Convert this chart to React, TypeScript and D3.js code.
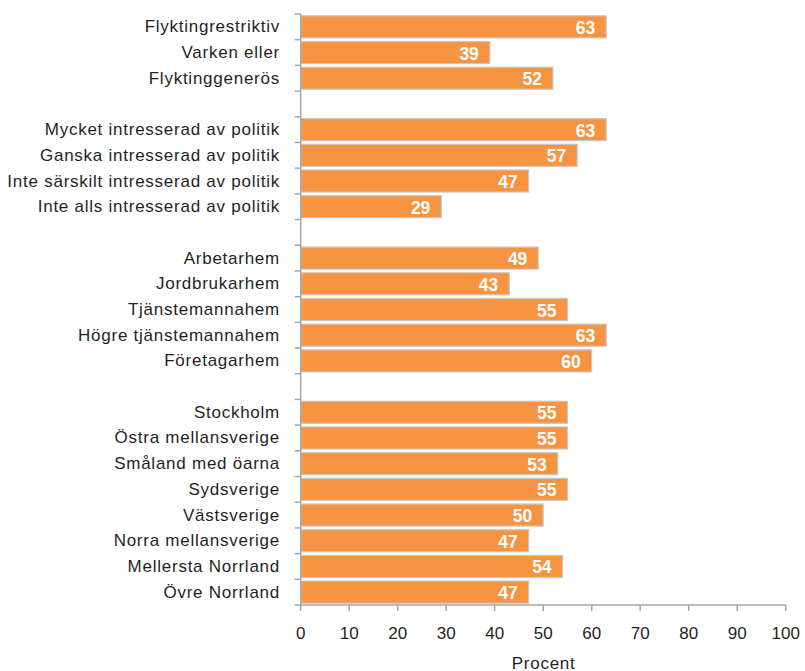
import React from "react";
import * as d3 from "d3";

const group1 = ["Flyktingrestriktiv", "Varken eller", "Flyktinggenerös"];
const values1 = [63, 39, 52];
const group2 = [
  "Mycket intresserad av politik",
  "Ganska intresserad av politik",
  "Inte särskilt intresserad av politik",
  "Inte alls intresserad av politik",
];
const values2 = [63, 57, 47, 29];
const group3 = ["Arbetarhem", "Jordbrukarhem", "Tjänstemannahem", "Högre tjänstemannahem", "Företagarhem"];
const values3 = [49, 43, 55, 63, 60];
const group4 = [
  "Stockholm",
  "Östra mellansverige",
  "Småland med öarna",
  "Sydsverige",
  "Västsverige",
  "Norra mellansverige",
  "Mellersta Norrland",
  "Övre Norrland",
];
const values4 = [55, 55, 53, 55, 50, 47, 54, 47];
const xTicks = [0, 10, 20, 30, 40, 50, 60, 70, 80, 90, 100];
const xTitle = "Procent";

type Row = { key: string; label: string | null; value: number | null };

function buildRows(): Row[] {
  const groups: [string[], number[]][] = [
    [group1, values1],
    [group2, values2],
    [group3, values3],
    [group4, values4],
  ];
  const rows: Row[] = [];
  groups.forEach(([labels, vals], gi) => {
    if (gi > 0) rows.push({ key: "gap" + gi, label: null, value: null });
    labels.forEach((l, i) => rows.push({ key: l, label: l, value: vals[i] }));
  });
  return rows;
}

const W = 805;
const H = 671;
const left = 300.7;
const right = 785.7;
const top = 14;
const bottom = 605;

export default function App() {
  const rows = buildRows();
  const x = d3.scaleLinear().domain([0, 100]).range([left, right]);
  const y = d3
    .scaleBand<string>()
    .domain(rows.map((r) => r.key))
    .range([top, bottom])
    .paddingInner(0.14)
    .paddingOuter(0.07);
  const step = y.step();
  const boundaries = d3.range(rows.length + 1).map((i) => top + i * step);
  const axisColor = "#a6a6a6";
  const font = "Liberation Sans, Arial, sans-serif";
  const textColor = "#1f1f1f";

  return (
    <svg
      width={W}
      height={H}
      style={{ position: "absolute", left: 0, top: 0, background: "#fff" }}
      fontFamily={font}
    >
      {rows.map((r) =>
        r.label === null ? null : (
          <g key={r.key}>
            <rect
              x={x(0)}
              y={y(r.key)!}
              width={x(r.value!) - x(0)}
              height={y.bandwidth()}
              fill="#F79441"
              stroke="#c6c9cc"
              strokeWidth={1.2}
            />
            <text
              x={x(r.value!) - 11}
              y={y(r.key)! + y.bandwidth() / 2 + 1}
              textAnchor="end"
              dominantBaseline="central"
              fill="#fff"
              fontWeight="bold"
              fontSize={17.5}
            >
              {r.value}
            </text>
            <text
              x={280}
              y={y(r.key)! + y.bandwidth() / 2}
              textAnchor="end"
              dominantBaseline="central"
              fill={textColor}
              fontSize={17}
              letterSpacing={0.75}
            >
              {r.label}
            </text>
          </g>
        )
      )}
      <line x1={left} x2={left} y1={top} y2={bottom} stroke={axisColor} strokeWidth={1.5} />
      {boundaries.map((b, i) => (
        <line key={"yt" + i} x1={left - 6} x2={left} y1={b} y2={b} stroke={axisColor} strokeWidth={1.5} />
      ))}
      <line x1={left} x2={right} y1={bottom} y2={bottom} stroke={axisColor} strokeWidth={1.5} />
      {xTicks.map((t) => (
        <g key={"xt" + t}>
          <line x1={x(t)} x2={x(t)} y1={bottom} y2={bottom + 6} stroke={axisColor} strokeWidth={1.5} />
          <text
            x={x(t)}
            y={bottom + 28}
            textAnchor="middle"
            dominantBaseline="central"
            fill={textColor}
            fontSize={17}
          >
            {t}
          </text>
        </g>
      ))}
      <text
        x={(left + right) / 2 + 0.4}
        y={663}
        textAnchor="middle"
        dominantBaseline="central"
        fill={textColor}
        fontSize={17}
        letterSpacing={0.75}
      >
        {xTitle}
      </text>
    </svg>
  );
}
